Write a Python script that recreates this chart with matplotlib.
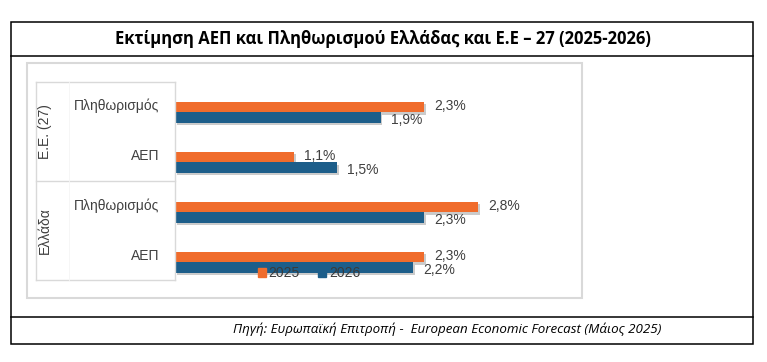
import matplotlib
matplotlib.use('Agg')
import matplotlib.pyplot as plt
import matplotlib.patheffects as pe
from matplotlib.patches import Rectangle, Patch
from matplotlib.lines import Line2D
import numpy as np

# data (top to bottom)
groups = ['Ε.Ε. (27)', 'Ελλάδα']
categories = ['Πληθωρισμός', 'ΑΕΠ', 'Πληθωρισμός', 'ΑΕΠ']
val_2025 = [2.3, 1.1, 2.8, 2.3]
val_2026 = [1.9, 1.5, 2.3, 2.2]
series_names = ['2025', '2026']

title = 'Εκτίμηση ΑΕΠ και Πληθωρισμού Ελλάδας και Ε.Ε – 27 (2025-2026)'
source = 'Πηγή: Ευρωπαϊκή Επιτροπή -  European Economic Forecast (Μάιος 2025)'

ORANGE = '#F06C2C'
BLUE = '#1D5E8A'
GRID = '#D9D9D9'
TXT = '#404040'

W, H = 767, 362
fig = plt.figure(figsize=(W / 100, H / 100), dpi=100)


def fx(x):
    return x / W


def fy(y):
    return 1 - y / H


# outer black frame
fig.add_artist(Rectangle((fx(11), fy(344)), fx(753) - fx(11), fy(22) - fy(344),
                         transform=fig.transFigure, fill=False, ec='black', lw=1.1))
for yy in (56, 317):
    fig.add_artist(Line2D([fx(11), fx(753)], [fy(yy), fy(yy)], transform=fig.transFigure,
                          color='black', lw=1.1))

fig.text(fx(383), fy(39), title, ha='center', va='center', fontsize=12,
         fontweight='bold', family='Open Sans', color='black')
fig.text(fx(233), fy(329), source, ha='left', va='center', fontsize=9.6,
         style='italic', family='Open Sans', color='black')

# chart area frame
fig.add_artist(Rectangle((fx(27), fy(298)), fx(582) - fx(27), fy(63) - fy(298),
                         transform=fig.transFigure, fill=False, ec=GRID, lw=1.5))

# category axis boxes
for yy in (82, 181, 280):
    fig.add_artist(Line2D([fx(36), fx(175)], [fy(yy), fy(yy)], transform=fig.transFigure,
                          color=GRID, lw=1.0))
for xx in (36, 175):
    fig.add_artist(Line2D([fx(xx), fx(xx)], [fy(82), fy(280)], transform=fig.transFigure,
                          color=GRID, lw=1.0))
fig.add_artist(Line2D([fx(69), fx(69)], [fy(82), fy(280)], transform=fig.transFigure,
                      color='#F5F5F5', lw=0.6))

fig.text(fx(45), fy(131.5), groups[0], rotation=90, ha='center', va='center',
         fontsize=10, family='Liberation Sans', color=TXT)
fig.text(fx(45), fy(230.5), groups[1], rotation=90, ha='center', va='center',
         fontsize=10, family='Liberation Sans', color=TXT)

# bars axes: 108.3 px per 1%, 50 px per category
ax_left, ax_right = 175, 575
ax = fig.add_axes([fx(ax_left), fy(280), fx(ax_right) - fx(ax_left), fy(82) - fy(280)])
ax.set_xlim(0, (ax_right - ax_left) / 108.3)
ax.set_ylim(3.36, -0.6)
ax.axis('off')

pos = np.arange(len(categories))
bh = 0.21
shadow = [pe.SimplePatchShadow(offset=(1.2, -1.8), shadow_rgbFace='#7F7F7F', alpha=0.4),
          pe.Normal()]
b1 = ax.barh(pos - 0.105, val_2025, height=bh, color=ORANGE, path_effects=shadow)
b2 = ax.barh(pos + 0.105, val_2026, height=bh, color=BLUE, path_effects=shadow)

for bars, vals, dy in ((b1, val_2025, 1), (b2, val_2026, -3)):
    for rect, v in zip(bars, vals):
        ax.annotate(f'{v:.1f}%'.replace('.', ','),
                    (rect.get_width(), rect.get_y() + rect.get_height() / 2),
                    xytext=(10, dy), textcoords='offset pixels', ha='left', va='center',
                    fontsize=10, family='Liberation Sans', color=TXT)

for p, c in zip(pos, categories):
    ax.text((159 - ax_left) / (ax_right - ax_left), p - 0.12, c,
            transform=ax.get_yaxis_transform(), ha='right', va='center',
            fontsize=10, family='Liberation Sans', color=TXT)

handles = [Patch(color=ORANGE), Patch(color=BLUE)]
leg = fig.legend(handles, series_names, loc='center', bbox_to_anchor=(fx(309), fy(273)),
                 ncol=2, frameon=False, handlelength=0.6, handleheight=0.6,
                 handletextpad=0.2, columnspacing=1.3,
                 prop={'family': 'Liberation Sans', 'size': 10})
for t in leg.get_texts():
    t.set_color('#3A3A3A')

fig.savefig('out.png', dpi=100)
